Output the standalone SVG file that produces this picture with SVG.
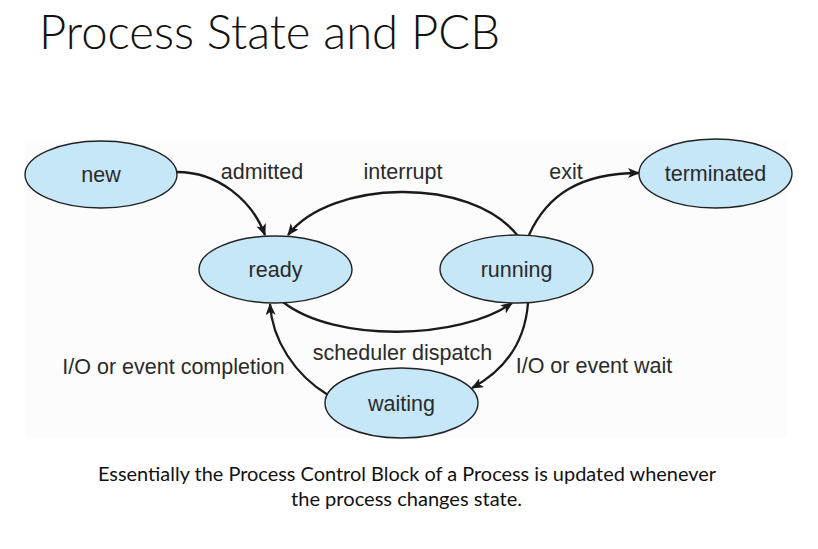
<svg xmlns="http://www.w3.org/2000/svg" width="818" height="549" viewBox="0 0 818 549">
  <defs>
    <marker id="arrow" viewBox="0 0 12 10" refX="11" refY="5" markerWidth="12" markerHeight="10" markerUnits="userSpaceOnUse" orient="auto">
      <path d="M0,0 L12,5 L0,10 L3,5 Z" fill="#1a1a1a"/>
    </marker>
    <style>
      .state { fill: #c6e7f8; stroke: #222; stroke-width: 1.4; }
      .lbl { font-family: "Liberation Sans", Arial, sans-serif; font-size: 21.5px; fill: #2a2a2a; text-anchor: middle; }
      .edge { fill: none; stroke: #1a1a1a; stroke-width: 2.3; marker-end: url(#arrow); }
      .title { font-family: Lato, "Open Sans", sans-serif; font-weight: 300; font-size: 47px; fill: #111; }
      .cap { font-family: Lato, "Open Sans", sans-serif; font-size: 18.5px; fill: #111; text-anchor: middle; }
    </style>
  </defs>
  <rect width="818" height="549" fill="#ffffff"/>
  <rect x="25" y="140" width="762" height="297" fill="#fcfcfc"/>

  <text class="title" x="39" y="49" textLength="461" lengthAdjust="spacingAndGlyphs">Process State and PCB</text>

  <g id="connectors">
    <path id="e-admitted" class="edge" d="M177,172 C218,172 252,200 265,235"/>
    <path id="e-interrupt" class="edge" d="M518,236 C470,175 330,180 288,235"/>
    <path id="e-exit" class="edge" d="M529,235 C547,195 580,173 639,173"/>
    <path id="e-dispatch" class="edge" d="M283,302 C335,343 460,340 512,303"/>
    <path id="e-wait" class="edge" d="M528,303 C525,342 505,370 472,388"/>
    <path id="e-completion" class="edge" d="M328,395 C295,375 272,340 270,304"/>
    <text class="lbl" x="262" y="179">admitted</text>
    <text class="lbl" x="403" y="179">interrupt</text>
    <text class="lbl" x="566" y="179">exit</text>
    <text class="lbl" x="402.5" y="360">scheduler dispatch</text>
    <text class="lbl" x="594" y="373">I/O or event wait</text>
    <text class="lbl" x="173.5" y="374">I/O or event completion</text>
  </g>

  <g id="new">
    <ellipse class="state" cx="101" cy="174.5" rx="76" ry="33.5"/>
    <text class="lbl" x="101" y="182">new</text>
  </g>
  <g id="ready">
    <ellipse class="state" cx="275.5" cy="269.5" rx="76.5" ry="33.5"/>
    <text class="lbl" x="275.5" y="277">ready</text>
  </g>
  <g id="running">
    <ellipse class="state" cx="516.5" cy="269" rx="76.5" ry="34"/>
    <text class="lbl" x="516.5" y="277">running</text>
  </g>
  <g id="terminated">
    <ellipse class="state" cx="715.5" cy="173.5" rx="76.5" ry="34.5"/>
    <text class="lbl" x="715.5" y="181">terminated</text>
  </g>
  <g id="waiting">
    <ellipse class="state" cx="401.5" cy="403" rx="76.5" ry="35"/>
    <text class="lbl" x="401.5" y="411">waiting</text>
  </g>

  <text class="cap" x="407" y="481" textLength="618" lengthAdjust="spacingAndGlyphs">Essentially the Process Control Block of a Process is updated whenever</text>
  <text class="cap" x="406.5" y="506" textLength="231" lengthAdjust="spacingAndGlyphs">the process changes state.</text>
</svg>
